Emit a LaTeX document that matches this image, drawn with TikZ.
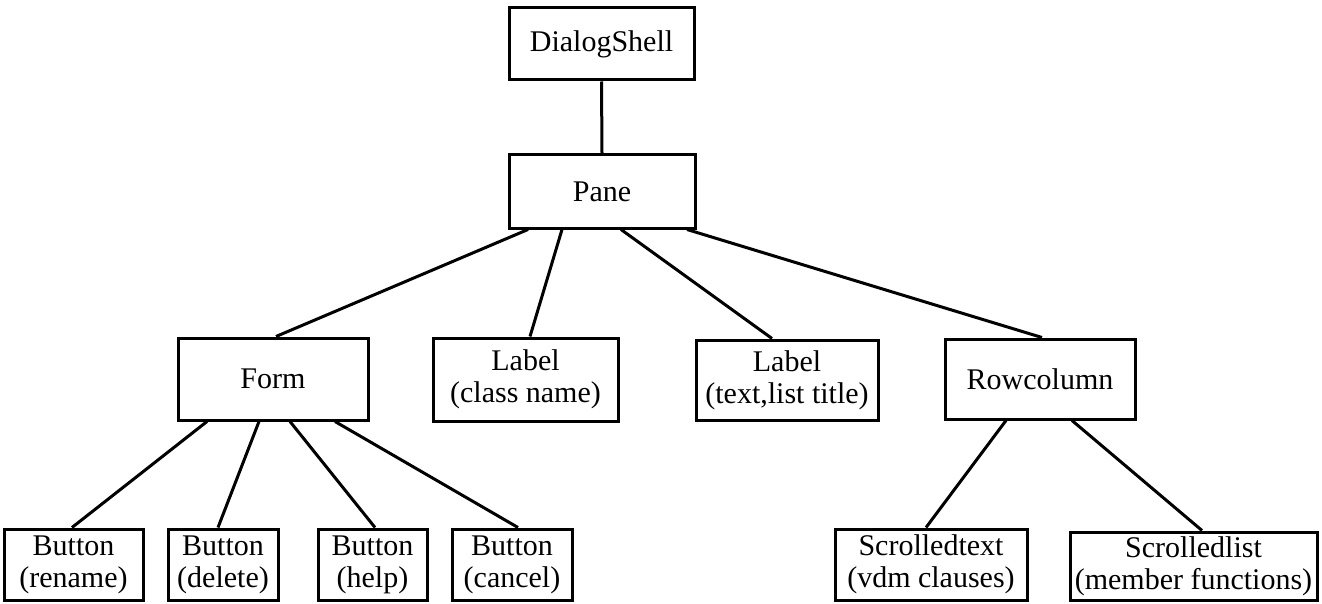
\documentclass[tikz,border=0pt]{standalone}
\usepackage{fontspec}
\setmainfont{Liberation Serif}

\begin{document}
\begin{tikzpicture}[x=1pt, y=-1pt,
    widget/.style={draw, line width=3pt, inner sep=0pt, align=center, font=\fontsize{30}{32}\selectfont},
    link/.style={line width=3pt}]
        \useasboundingbox (0,0) rectangle (1322,604);
        % top of the tree
        \node[widget, minimum width=185pt, minimum height=72pt] (shell) at (601.5,44) {DialogShell};
        \node[widget, minimum width=186pt, minimum height=73pt] (pane) at (602,191.5) {Pane};
        \draw[link] (shell.south) -- (pane.north);
        % children of the pane
        \node[widget, minimum width=190pt, minimum height=82pt] (form) at (273,379) {Form};
        \node[widget, minimum width=185pt, minimum height=83pt] (lblclass) at (525.5,379.5) {Label\\(class name)};
        \node[widget, minimum width=182pt, minimum height=80pt] (lbltext) at (787,380) {Label\\(text,list title)};
        \node[widget, minimum width=190pt, minimum height=80pt] (rowcol) at (1040,379) {Rowcolumn};
        \foreach \kid/\dx/\ex in {form/-74/3, lblclass/-40/4.5, lbltext/19/-15, rowcol/85/2} {
            \draw[link] ([xshift=\dx pt]pane.south) -- ([xshift=\ex pt]\kid.north);
        }
        % buttons of the form
        \foreach \id/\x/\w/\dx/\ex in {rename/73.5/139/-66/-1.5, delete/223/110/-14/-5, help/372.5/109/17/2.5, cancel/512/120/62/6} {
            \node[widget, minimum width=\w pt, minimum height=71pt] (\id) at (\x,564.5) {Button\\(\id)};
            \draw[link] ([xshift=\dx pt]form.south) -- ([xshift=\ex pt]\id.north);
        }
        % lists of the rowcolumn
        \node[widget, minimum width=192pt, minimum height=71pt] (stext) at (931,564.5) {Scrolledtext\\(vdm clauses)};
        \node[widget, minimum width=247pt, minimum height=68pt] (slist) at (1193.5,566) {Scrolledlist\\(member functions)};
        \draw[link] ([xshift=-34pt]rowcol.south) -- ([xshift=-5pt]stext.north);
        \draw[link] ([xshift=32pt]rowcol.south) -- ([xshift=8.5pt]slist.north);
    \end{tikzpicture}
\end{document}
